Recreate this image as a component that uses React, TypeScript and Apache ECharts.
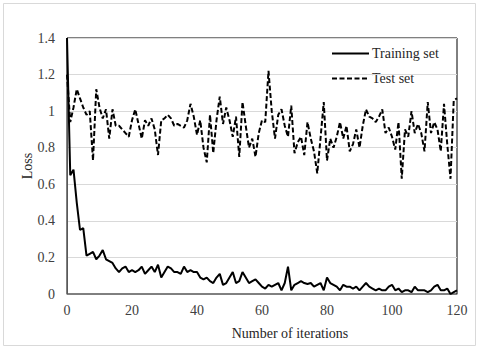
import React, { useEffect, useRef } from "react";
import * as echarts from "echarts";

const iterations: number[] = Array.from({ length: 121 }, (_, i) => i);

const trainingLoss: number[] = [
  1.40, 0.65, 0.68, 0.50, 0.35, 0.36, 0.21, 0.22, 0.23, 0.19,
  0.21, 0.24, 0.19, 0.18, 0.17, 0.14, 0.12, 0.14, 0.15, 0.12,
  0.13, 0.12, 0.13, 0.15, 0.11, 0.13, 0.15, 0.12, 0.16, 0.09,
  0.12, 0.15, 0.14, 0.12, 0.12, 0.11, 0.15, 0.12, 0.13, 0.12,
  0.12, 0.09, 0.08, 0.09, 0.07, 0.06, 0.09, 0.11, 0.05, 0.06,
  0.09, 0.12, 0.06, 0.07, 0.12, 0.09, 0.06, 0.07, 0.08, 0.06,
  0.04, 0.03, 0.05, 0.04, 0.05, 0.06, 0.02, 0.06, 0.15, 0.02,
  0.05, 0.06, 0.07, 0.06, 0.055, 0.06, 0.04, 0.05, 0.06, 0.02,
  0.09, 0.06, 0.05, 0.04, 0.02, 0.05, 0.04, 0.04, 0.03, 0.04,
  0.02, 0.04, 0.06, 0.04, 0.03, 0.02, 0.03, 0.02, 0.02, 0.04,
  0.05, 0.02, 0.03, 0.01, 0.02, 0.02, 0.01, 0.04, 0.02, 0.02,
  0.02, 0.01, 0.02, 0.04, 0.05, 0.02, 0.02, 0.03, 0.00, 0.01,
  0.02,
];

const testLoss: number[] = [
  1.20, 0.94, 1.02, 1.12, 1.07, 1.02, 0.98, 1.00, 0.73, 1.12,
  1.02, 0.96, 1.01, 0.85, 1.01, 0.92, 0.92, 0.90, 0.88, 0.86,
  0.95, 1.01, 0.93, 0.85, 0.95, 0.92, 0.96, 0.90, 0.76, 0.95,
  0.96, 0.98, 0.96, 0.92, 0.93, 0.92, 0.91, 0.95, 1.04, 0.97,
  0.87, 0.95, 0.80, 0.72, 0.98, 0.77, 0.95, 1.08, 0.93, 1.02,
  0.95, 0.86, 0.97, 0.75, 1.05, 0.92, 0.80, 0.85, 0.75, 0.88,
  0.95, 0.94, 1.22, 1.00, 0.85, 0.98, 1.01, 0.92, 0.86, 1.03,
  0.77, 0.83, 0.86, 0.76, 0.94, 0.85, 0.78, 0.66, 0.85, 1.05,
  0.73, 0.85, 0.80, 0.86, 0.94, 0.85, 0.92, 0.78, 0.82, 0.90,
  0.80, 0.92, 1.01, 0.97, 0.96, 0.94, 0.97, 1.01, 0.88, 0.91,
  0.86, 0.79, 0.94, 0.63, 0.90, 0.86, 1.00, 0.88, 0.93, 0.88,
  0.78, 1.05, 0.88, 0.94, 0.90, 0.78, 1.04, 0.82, 0.63, 1.06,
  1.07,
];

const seriesNames: string[] = ["Training set", "Test set"];
const xAxisTitle = "Number of iterations";
const yAxisTitle = "Loss";

const FONT = "'Liberation Serif', 'Times New Roman', serif";
const TEST_DASH = [5, 2.5];

export default function App() {
  const ref = useRef<HTMLDivElement>(null);

  useEffect(() => {
    if (!ref.current) return;
    const chart = echarts.init(ref.current, undefined, { renderer: "svg" });
    const train = iterations.map((x, i) => [x, trainingLoss[i]]);
    const test = iterations.map((x, i) => [x, testLoss[i]]);

    const legendItems = seriesNames.map((name, k) => {
      const y = 53.5 + k * 25;
      return [
        {
          type: "line",
          shape: { x1: 332, y1: y, x2: 369, y2: y },
          style: {
            stroke: "#000000",
            lineWidth: 2,
            lineDash: k === 0 ? null : TEST_DASH,
          },
          silent: true,
        },
        {
          type: "text",
          x: 372,
          y,
          style: {
            text: name,
            fontFamily: FONT,
            fontSize: 14,
            fill: "#262626",
            align: "left",
            verticalAlign: "middle",
          },
        },
      ];
    }).flat();

    chart.setOption({
      animation: false,
      backgroundColor: "#ffffff",
      textStyle: { fontFamily: FONT },
      grid: {
        left: 67,
        right: 23,
        top: 38,
        bottom: 57,
        show: true,
        borderColor: "#000000",
        borderWidth: 1,
        backgroundColor: "transparent",
      },
      legend: { show: false },
      xAxis: {
        type: "value",
        min: 0,
        max: 120,
        interval: 20,
        axisLine: { show: true, lineStyle: { color: "#7f7f7f", width: 1 } },
        axisTick: { show: false },
        splitLine: { show: false },
        axisLabel: {
          fontFamily: FONT,
          fontSize: 14,
          color: "#404040",
          margin: 9,
        },
      },
      yAxis: {
        type: "value",
        min: 0,
        max: 1.4,
        interval: 0.2,
        axisLine: { show: true, lineStyle: { color: "#595959", width: 1 } },
        axisTick: { show: false },
        splitLine: { show: true, lineStyle: { color: "#d9d9d9", width: 1 } },
        axisLabel: {
          fontFamily: FONT,
          fontSize: 14,
          color: "#404040",
          margin: 12,
        },
      },
      graphic: [
        {
          type: "rect",
          shape: { x: 3.5, y: 3.5, width: 472, height: 342 },
          style: { fill: "none", stroke: "#d9d9d9", lineWidth: 1 },
          silent: true,
        },
        {
          type: "text",
          x: 290,
          y: 333,
          style: {
            text: xAxisTitle,
            fontFamily: FONT,
            fontSize: 14,
            fill: "#262626",
            align: "center",
            verticalAlign: "middle",
          },
        },
        {
          type: "text",
          x: 27,
          y: 166,
          rotation: Math.PI / 2,
          style: {
            text: yAxisTitle,
            fontFamily: FONT,
            fontSize: 14,
            fill: "#262626",
            align: "center",
            verticalAlign: "middle",
          },
        },
        ...legendItems,
      ],
      series: [
        {
          name: seriesNames[0],
          type: "line",
          data: train,
          showSymbol: false,
          symbol: "none",
          lineStyle: { color: "#000000", width: 2, type: "solid" },
          itemStyle: { color: "#000000" },
          z: 3,
        },
        {
          name: seriesNames[1],
          type: "line",
          data: test,
          showSymbol: false,
          symbol: "none",
          lineStyle: { color: "#000000", width: 2, type: TEST_DASH },
          itemStyle: { color: "#000000" },
          z: 2,
        },
      ],
    });
    return () => chart.dispose();
  }, []);

  return (
    <div
      ref={ref}
      style={{ position: "fixed", left: 0, top: 0, width: 480, height: 351 }}
    />
  );
}
